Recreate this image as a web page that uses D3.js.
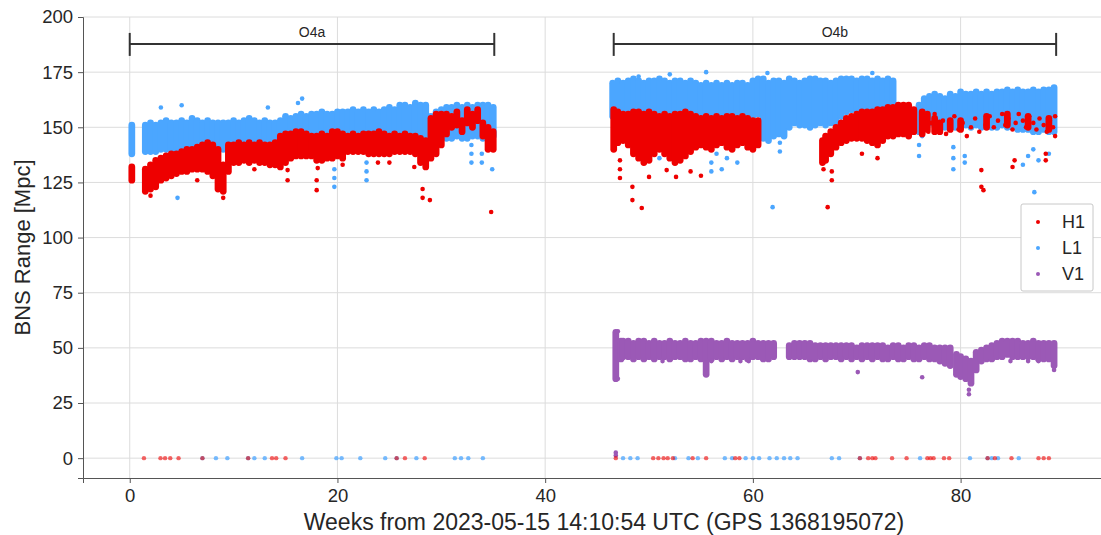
<!DOCTYPE html>
<html>
<head>
<meta charset="utf-8">
<script src="https://cdn.jsdelivr.net/npm/d3@7"></script>
<style>
  body { margin: 0; background: #fff; }
  text { font-family: "Liberation Sans", Arial, sans-serif; }
</style>
</head>
<body>
<div id="chart"></div>
<script>
// ---- data ----
// dense bands: [week, low, high] (BNS range in Mpc)
const h1Band = [
  [0.2,126,132],[1.5,121,131],[2.0,122,133],[2.5,123,135],[3.0,126,136],[3.5,127,137],[4.0,128,138],[4.5,129,138],
  [5.0,130,139],[5.5,130,140],[6.0,131,140],[6.5,131,141],[7.0,131,142],[7.5,130,143],[8.0,128,142],[8.5,122,140],
  [9.0,121,133],[9.5,130,142],[10.0,134,142],[10.5,134,143],[11.0,135,142],[11.5,134,143],[12.0,135,142],[12.5,134,143],
  [13.0,134,142],[13.5,133,142],[14.0,133,143],[14.5,132,146],[15.0,134,147],[15.5,136,147],[16.0,137,148],[16.5,137,148],
  [17.0,137,147],[17.5,137,146],[18.0,135,146],[18.5,135,147],[19.0,136,146],[19.5,136,148],[20.0,137,148],[20.5,136,147],
  [21.0,139,146],[21.5,139,147],[22.0,139,146],[22.5,139,147],[23.0,138,147],[23.5,138,147],[24.0,138,148],[24.5,138,147],
  [25.0,138,146],[25.5,139,147],[26.0,139,146],[26.5,139,147],[27.0,139,146],[27.5,138,146],[28.0,134,145],[28.5,132,144],
  [29.0,136,154],[29.5,138,156],[30.0,142,156],[30.5,147,156],[31.0,150,155],[31.5,151,157],[32.0,148,153],[32.5,152,158],
  [33.0,150,156],[33.5,153,158],[34.0,146,152],[34.5,140,150],[35.0,140,148],
  [46.6,140,158],[47.0,143,157],[47.5,144,156],[48.0,142,156],[48.5,138,157],[49.0,136,157],[49.5,134,156],[50.0,135,157],
  [50.5,138,156],[51.0,140,155],[51.5,138,156],[52.0,136,155],[52.5,134,156],[53.0,135,156],[53.5,137,157],[54.0,139,156],
  [54.5,141,155],[55.0,142,154],[55.5,141,155],[56.0,140,154],[56.5,142,155],[57.0,143,154],[57.5,141,155],[58.0,140,155],
  [58.5,142,154],[59.0,143,155],[59.5,141,154],[60.0,140,153],[60.5,142,153],
  [66.7,134,144],[67.0,135,146],[67.5,138,148],[68.0,141,150],[68.5,143,152],[69.0,144,154],[69.5,145,155],[70.0,145,156],
  [70.5,145,157],[71.0,144,157],[71.5,143,157],[72.0,142,158],[72.5,144,158],[73.0,146,159],[73.5,146,159],[74.0,147,160],
  [74.5,147,160],[75.0,146,160],[75.5,148,158],
  [76.3,147,157],[76.8,149,156],[77.5,148,154],[78.0,148,152],[79.0,149,153],[80.0,149,153],[82.5,150,155],[84.5,151,156],
  [86.5,150,155],[88.5,149,154]
];
const l1Band = [
  [0.2,138,151],[1.5,139,151],[2.0,139,152],[2.5,139,151],[3.0,140,152],[3.5,140,153],[4.0,140,152],[4.5,139,152],
  [5.0,140,153],[5.5,141,152],[6.0,141,154],[6.5,141,153],[7.0,141,152],[7.5,143,153],[8.0,143,152],[8.5,141,152],
  [9.0,140,152],[9.5,140,152],[10.0,140,153],[10.5,141,152],[11.0,141,153],[11.5,141,154],[12.0,141,153],[12.5,140,152],
  [13.0,140,153],[13.5,140,152],[14.0,141,152],[14.5,141,153],[15.0,142,155],[15.5,142,154],[16.0,143,155],[16.5,143,156],
  [17.0,143,155],[17.5,142,156],[18.0,143,156],[18.5,142,157],[19.0,143,156],[19.5,142,156],[20.0,143,157],[20.5,143,157],
  [21.0,144,157],[21.5,143,158],[22.0,144,157],[22.5,144,158],[23.0,144,157],[23.5,144,158],[24.0,144,157],[24.5,145,158],
  [25.0,145,159],[25.5,144,158],[26.0,145,160],[26.5,146,160],[27.0,145,159],[27.5,146,161],[28.0,146,160],[28.5,146,160],
  [29.0,144,155],[29.5,144,157],[30.0,145,158],[30.5,145,159],[31.0,145,159],[31.5,146,160],[32.0,145,159],[32.5,145,160],
  [33.0,146,159],[33.5,146,160],[34.0,145,160],[34.5,146,160],[35.0,146,159],
  [46.5,155,170],[47.0,156,171],[47.5,156,170],[48.0,157,171],[48.5,156,172],[49.0,155,171],[49.5,155,170],[50.0,154,171],
  [50.5,156,171],[51.0,155,172],[51.5,155,171],[52.0,154,170],[52.5,155,171],[53.0,156,171],[53.5,155,170],[54.0,155,171],
  [54.5,153,170],[55.0,152,169],[55.5,153,170],[56.0,153,169],[56.5,154,170],[57.0,154,169],[57.5,154,170],[58.0,153,169],
  [58.5,153,170],[59.0,154,170],[59.5,154,169],[60.0,155,171],[60.5,156,172],[61.0,145,172],[61.5,144,170],[62.0,146,171],
  [62.5,147,171],[63.0,146,170],[63.5,150,172],[64.0,152,171],[64.5,151,170],[65.0,151,171],[65.5,150,172],[66.0,151,172],
  [66.5,152,171],[67.0,151,171],[67.5,152,170],[68.0,152,171],[68.5,155,172],[69.0,157,172],[69.5,158,172],[70.0,158,171],
  [70.5,158,172],[71.0,158,172],[71.5,158,171],[72.0,158,172],[72.5,159,171],[73.0,159,172],[73.5,159,171],
  [76.0,148,160],[76.5,150,163],[77.0,152,164],[77.5,151,165],[78.0,152,164],[78.5,150,163],[79.0,151,165],[79.5,150,164],
  [80.0,150,166],[80.5,151,165],[81.0,150,165],[81.5,151,166],[82.0,150,165],[82.5,151,166],[83.0,150,165],[83.5,150,166],
  [84.0,151,166],[84.5,150,167],[85.0,150,166],[85.5,149,167],[86.0,149,166],[86.5,149,166],[87.0,148,167],[87.5,148,166],
  [88.0,149,167],[88.5,148,167],[89.0,148,168]
];
const v1Band = [
  [46.8,36,57],[47.3,45,53],[47.5,46,53],[48.0,46,53],[48.5,45,52],[49.0,46,53],[49.5,45,53],[50.0,46,52],[50.5,45,53],
  [51.0,46,52],[51.5,46,52],[52.0,45,53],[52.5,46,52],[53.0,46,52],[53.5,45,53],[54.0,45,52],[54.5,46,52],[55.0,45,53],
  [55.5,38,53],[56.0,45,53],[56.5,46,52],[57.0,45,52],[57.5,46,53],[58.0,45,52],[58.5,46,52],[59.0,46,52],[59.5,45,52],
  [60.0,46,53],[60.5,46,52],[61.0,45,52],[61.5,45,52],[62.0,46,52],
  [63.5,46,51],[64.0,46,52],[64.5,46,52],[65.0,46,52],[65.5,45,52],[66.0,45,51],[66.5,46,51],[67.0,45,51],[67.5,46,51],
  [68.0,46,51],[68.5,45,51],[69.0,46,51],[69.5,45,51],[70.0,46,50],[70.5,45,51],[71.0,46,51],[71.5,45,51],[72.0,46,51],
  [72.5,45,51],[73.0,45,50],[73.5,46,51],[74.0,45,51],[74.5,45,50],[75.0,46,51],[75.5,45,51],[76.0,45,50],[76.5,46,51],
  [77.0,45,51],[77.5,45,50],[78.0,44,50],[78.5,43,50],[79.0,42,50],[79.6,38,47],[80.0,37,46],[80.5,36,45],[81.0,34,44],
  [81.5,40,48],[82.0,44,49],[82.5,45,50],[83.0,45,51],[83.5,46,52],[84.0,46,53],[84.5,47,53],[85.0,46,53],[85.5,46,53],
  [86.0,46,52],[86.5,46,52],[87.0,46,53],[87.5,45,52],[88.0,45,52],[88.5,45,52],[89.0,42,52]
];

// isolated points: [week, range]
const h1Points = [
  [18.0,126],[18.0,121.5],[28.2,122],[28.2,118],[28.9,117],[23.9,134],[25.0,134],[27.4,132],[15.2,130.6],[15.2,126],
  [18.1,131.5],[34.8,111.6],[6.5,126],[2.0,119],[9.0,118],[12.0,131],[20.5,133],
  [48.4,123],[48.4,117],[49.3,113.4],[50.0,127.5],[47.2,127],[47.2,131],[47.2,135],[51.7,130.6],[52.6,127.5],[54.0,130],
  [55.0,128],[67.2,113.8],[67.6,126],[67.6,130],[66.8,131],[82.0,130.6],[82.0,123],[82.2,121.5],[85.0,132],[85.2,135],
  [88.2,135],[88.2,138],[70.5,138],[72.0,136],
  [76.5,150],[76.5,154],[76.9,148],[77.2,152],[77.5,156],[77.9,149],[78.3,153],[78.6,147],[79.0,151],[79.4,155],[79.8,149],
  [80.2,152],[80.6,146],[81.0,150],[81.4,154],[81.8,148],[82.4,151],[82.8,155],[83.2,150],[83.6,153],[84.0,156],[84.3,151],
  [84.6,154],[85.0,149],[85.3,152],[85.6,156],[86.0,153],[86.3,150],[86.6,155],[87.0,152],[87.3,149],[87.6,154],[88.0,151],
  [88.3,148],[88.6,153],[88.9,150],[89.1,146],[89.1,155]
];
const l1Points = [
  [3.0,159],[5.0,160],[4.6,118],[13.3,159],[16.2,161],[16.6,163],[19.7,123],[19.7,127],[19.7,131],[22.8,126],[22.8,130],
  [22.8,134],[32.9,134],[32.9,138],[32.9,142],[33.9,134],[33.9,138],[34.9,131],
  [51.0,136],[51.0,140],[51.5,138],[52.0,142],[56.0,130],[56.0,134],[56.5,138],[57.0,131],[57.5,136],[58.0,140],[58.5,134],
  [62.6,139],[62.6,143],[61.9,113.8],[61.4,174.6],[71.5,174.6],[49.0,173],[52.0,174],[55.5,175],[76.0,137],[76.0,142],
  [76.3,146],[79.3,131],[79.3,136],[79.3,141],[80.4,134],[80.4,137],[86.0,133],[86.5,137],[87.0,140],[87.5,135],[88.5,138],
  [87.1,120.6]
];
const v1Points = [
  [47.0,36],[47.0,57.5],[51.3,44],[56.0,44],[58.8,44],[59.6,44],[70.1,39],[76.3,36.7],[80.8,29],[80.8,31],[84.8,44],
  [86.5,44],[87.5,44],[89.0,40],[46.8,2.5],[46.8,1.2]
];

// weeks where the detector reported 0 Mpc
const h1Zero = [1.37,2.96,3.4,3.9,4.7,7.0,11.4,13.7,14.1,15.0,25.7,26.5,28.4,46.8,50.4,50.9,51.4,51.8,52.3,54.2,55.5,
  58.3,58.7,70.3,71.1,71.5,71.8,73.4,74.8,76.8,77.1,77.4,78.4,78.9,82.6,83.3,84.9,87.5,88.0,88.5];
const l1Zero = [7.0,8.3,9.4,11.4,12.0,13.0,16.6,19.9,20.4,22.2,24.6,25.7,27.6,31.3,31.9,32.6,34.0,47.5,48.2,48.9,52.5,
  53.8,54.7,57.3,58.0,59.3,60.0,60.6,61.6,62.3,63.0,63.6,64.3,67.6,68.3,70.3,76.1,80.9,82.6,83.0,83.6,85.6];

// observing runs: [label, start week, end week]
const runs = [["O4a", 0, 35.1], ["O4b", 46.6, 89.2]];
const runY = 187.8;

const xTicks = [0, 20, 40, 60, 80];
const yTicks = [0, 25, 50, 75, 100, 125, 150, 175, 200];
const detectors = ["H1", "L1", "V1"];
const colors = {H1: "#ee0000", L1: "#4ba6ff", V1: "#9b59b6"};

// ---- chart ----
let width = 1101,
    height = 535,
    margin = ({top: 17, right: -5, bottom: 57, left: 83});

const svg = d3.select("#chart")
  .append("svg")
  .attr("width", width)
  .attr("height", height);

let x = d3.scaleLinear()
  .domain([-4.5, 94])
  .range([margin.left, width - margin.right]);

let y = d3.scaleLinear()
  .domain([-9, 200])
  .range([height - margin.bottom, margin.top]);

// grid
svg.append("g")
  .selectAll("line")
  .data(yTicks)
  .join("line")
  .attr("x1", margin.left).attr("x2", width)
  .attr("y1", d => y(d)).attr("y2", d => y(d))
  .attr("stroke", "#dcdcdc");

svg.append("g")
  .selectAll("line")
  .data(xTicks)
  .join("line")
  .attr("x1", d => x(d)).attr("x2", d => x(d))
  .attr("y1", margin.top).attr("y2", height - margin.bottom)
  .attr("stroke", "#dcdcdc");

// band columns overlap a little so they read as one dense cloud
const bandW = (x(0.5) - x(0)) * 1.3;

function drawSeries(band, points, color) {
  let g = svg.append("g");
  g.selectAll("line")
    .data(band)
    .join("line")
    .attr("x1", d => x(d[0])).attr("x2", d => x(d[0]))
    .attr("y1", d => y(d[1])).attr("y2", d => y(d[2]))
    .attr("stroke", color)
    .attr("stroke-width", bandW)
    .attr("stroke-linecap", "round");
  g.selectAll("circle")
    .data(points)
    .join("circle")
    .attr("cx", d => x(d[0]))
    .attr("cy", d => y(d[1]))
    .attr("r", 2.3)
    .attr("fill", color);
}

drawSeries(l1Band, l1Points, colors.L1);
drawSeries(h1Band, h1Points, colors.H1);
drawSeries(v1Band, v1Points, colors.V1);

// zero-range points
svg.append("g")
  .selectAll("circle")
  .data(l1Zero)
  .join("circle")
  .attr("cx", d => x(d)).attr("cy", y(0)).attr("r", 2.2)
  .attr("fill", colors.L1).attr("fill-opacity", 0.75);

svg.append("g")
  .selectAll("circle")
  .data(h1Zero)
  .join("circle")
  .attr("cx", d => x(d)).attr("cy", y(0)).attr("r", 2.2)
  .attr("fill", colors.H1).attr("fill-opacity", 0.6);

// axes
let xAxis = svg.append("g")
  .attr("transform", `translate(0,${height - margin.bottom})`)
  .call(d3.axisBottom(x).tickValues(xTicks).tickSize(5).tickPadding(6));

let yAxis = svg.append("g")
  .attr("transform", `translate(${margin.left},0)`)
  .call(d3.axisLeft(y).tickValues(yTicks).tickSize(5).tickPadding(5));

for (let ax of [xAxis, yAxis]) {
  ax.select(".domain").attr("stroke", "#555");
  ax.selectAll(".tick line").attr("stroke", "#555");
  ax.selectAll(".tick text")
    .attr("fill", "#262626")
    .style("font-size", "18.5px")
    .style("font-family", "Liberation Sans, Arial, sans-serif");
}

svg.append("text")
  .attr("x", 604)
  .attr("y", 530)
  .attr("text-anchor", "middle")
  .attr("fill", "#262626")
  .style("font-size", "23px")
  .text("Weeks from 2023-05-15 14:10:54 UTC (GPS 1368195072)");

svg.append("text")
  .attr("transform", `translate(30,${(margin.top + height - margin.bottom) / 2}) rotate(-90)`)
  .attr("text-anchor", "middle")
  .attr("fill", "#262626")
  .style("font-size", "22px")
  .text("BNS Range [Mpc]");

// run brackets
let runG = svg.append("g")
  .selectAll("g")
  .data(runs)
  .join("g");

runG.append("line")
  .attr("x1", d => x(d[1])).attr("x2", d => x(d[2]))
  .attr("y1", y(runY)).attr("y2", y(runY))
  .attr("stroke", "#333").attr("stroke-width", 2);

runG.selectAll("line.cap")
  .data(d => [d[1], d[2]])
  .join("line")
  .classed("cap", true)
  .attr("x1", d => x(d)).attr("x2", d => x(d))
  .attr("y1", y(runY) - 11).attr("y2", y(runY) + 12)
  .attr("stroke", "#333").attr("stroke-width", 2);

runG.append("text")
  .attr("x", d => x((d[1] + d[2]) / 2))
  .attr("y", y(runY) - 7)
  .attr("text-anchor", "middle")
  .attr("fill", "#262626")
  .style("font-size", "14px")
  .text(d => d[0]);

// legend
let legend = svg.append("g").attr("transform", "translate(1021,204)");
legend.append("rect")
  .attr("width", 72).attr("height", 87)
  .attr("rx", 2)
  .attr("fill", "#fff")
  .attr("stroke", "#c8c8c8");

let item = legend.selectAll("g.item")
  .data(detectors)
  .join("g")
  .classed("item", true)
  .attr("transform", (d, i) => `translate(0,${18 + i * 26})`);

item.append("circle")
  .attr("cx", 17).attr("cy", 0).attr("r", 2)
  .attr("fill", d => colors[d]);

item.append("text")
  .attr("x", 41).attr("y", 6)
  .attr("fill", "#262626")
  .style("font-size", "18px")
  .text(d => d);
</script>
</body>
</html>
